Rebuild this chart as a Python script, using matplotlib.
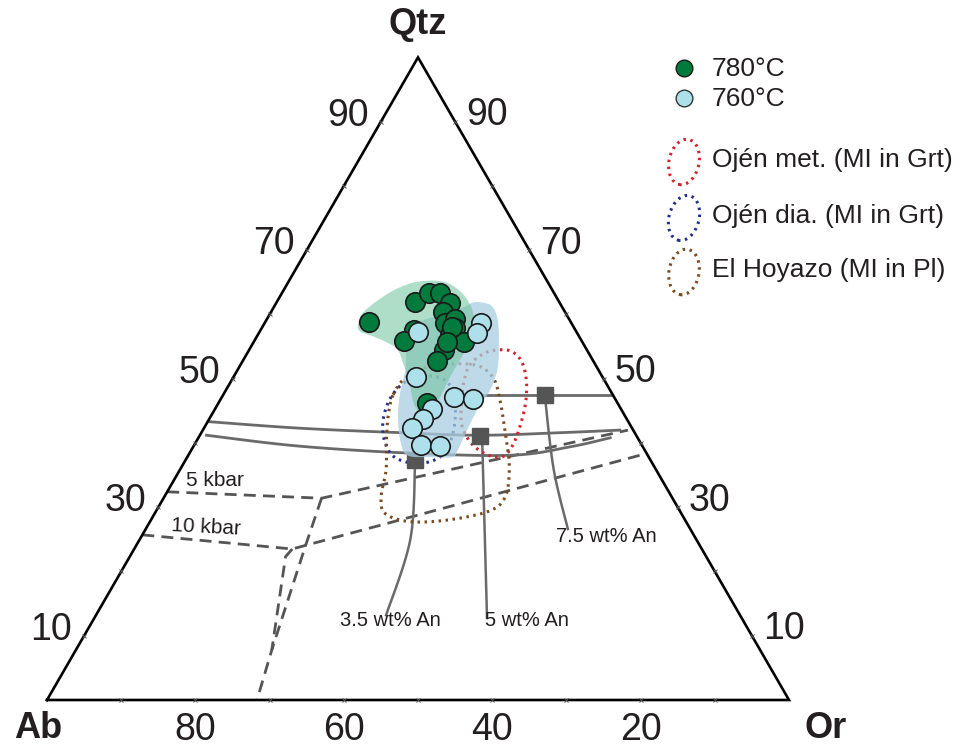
import numpy as np
import matplotlib
matplotlib.use("Agg")
import matplotlib.pyplot as plt
from matplotlib.patches import Polygon, Ellipse

plt.rcParams['font.family'] = ['Liberation Sans', 'DejaVu Sans']

# --- data: compositions in wt% (Qtz, Or); Ab = 100 - Qtz - Or ---
q780 = [58.8, 61.9, 63.3, 63.3, 61.8, 60.4, 57.6, 55.9, 58.7, 59.3, 57.9, 56.8, 55.7, 54.5, 52.8, 46.2, 58.0, 55.7]
o780 = [14.0, 18.7, 19.8, 21.3, 23.4, 23.2, 20.7, 20.2, 24.3, 25.4, 26.1, 25.9, 28.3, 26.2, 26.2, 28.1, 25.6, 26.0]

q760 = [57.3, 58.7, 57.1, 50.3, 47.2, 46.8, 45.3, 43.7, 42.3, 39.7, 39.5]
o760 = [21.4, 29.2, 29.4, 24.6, 31.3, 34.0, 29.3, 28.8, 28.0, 30.5, 33.2]

# fields of the 780 and 760 experiments
field780_q = [58.4, 60.4, 63.0, 64.6, 65.2, 65.1, 63.8, 61.8, 59.6, 56.5, 54.0, 50.3, 47.2, 45.1, 44.8, 46.2, 49.3, 52.4, 54.8, 56.5, 57.3]
field780_o = [12.7, 12.5, 14.1, 16.1, 18.1, 20.9, 23.6, 26.0, 27.7, 29.1, 29.2, 29.2, 29.4, 29.1, 27.9, 26.3, 24.2, 21.8, 19.6, 15.9, 13.6]
field760_q = [61.9, 61.3, 59.1, 55.2, 51.4, 48.2, 45.4, 42.3, 38.9, 37.8, 37.8, 38.0, 39.7, 43.6, 47.5, 51.4, 55.2, 58.4, 59.9, 61.0, 61.8]
field760_o = [27.4, 29.3, 31.2, 33.3, 35.0, 35.6, 35.4, 35.6, 35.9, 35.7, 32.7, 29.7, 27.9, 25.5, 23.8, 22.6, 20.9, 20.4, 23.0, 25.4, 26.4]

# melt inclusion fields from literature
ojen_met_q = [54.5, 54.2, 52.6, 49.8, 46.7, 43.6, 40.2, 38.1, 37.8, 38.6, 40.2, 42.8, 45.9, 49.0, 52.1, 54.0]
ojen_met_o = [33.8, 35.6, 37.7, 39.7, 41.2, 42.2, 42.9, 42.7, 41.5, 39.3, 36.9, 34.5, 32.9, 31.6, 30.9, 32.0]
ojen_dia_q = [50.3, 50.4, 49.5, 47.0, 43.6, 40.5, 38.1, 37.0, 36.9, 38.0, 40.5, 43.6, 46.7, 49.0]
ojen_dia_o = [24.5, 26.7, 29.2, 31.4, 33.2, 34.2, 34.2, 32.8, 30.5, 27.6, 25.2, 23.5, 22.8, 23.2]
hoyazo_q = [47.5, 50.1, 51.7, 52.3, 52.0, 50.1, 46.7, 42.0, 36.6, 31.9, 29.6, 28.3, 27.7, 28.0, 29.3, 31.9, 35.8, 40.5, 44.4]
hoyazo_o = [22.9, 23.2, 25.1, 28.4, 32.1, 35.1, 37.7, 40.7, 44.0, 45.9, 45.2, 41.5, 37.1, 33.6, 30.7, 29.1, 27.8, 25.5, 23.8]

# cotectic curves and minima for different An contents
cot1_q = [43.3, 42.3, 41.6, 41.2, 41.6, 42.0]
cot1_o = [0.3, 12.9, 26.8, 37.7, 48.4, 56.2]
cot2_q = [41.2, 39.5, 38.4, 38.1, 39.4, 40.8]
cot2_o = [0.9, 14.3, 30.1, 43.7, 50.8, 55.5]
cot3_q = [47.5, 47.5, 47.5]
cot3_o = [31.3, 43.4, 52.2]
min_q = [47.5, 41.1, 37.4]
min_o = [43.4, 37.8, 30.9]
min_labels = ['7.5 wt% An', '5 wt% An', '3.5 wt% An']

# pointers from minima to labels
lead75_q, lead75_o = [46.7, 35.8, 26.6], [43.8, 50.4, 56.9]
lead5_q, lead5_o = [40.5, 12.8], [38.4, 52.9]
lead35_q, lead35_o = [36.6, 24.9, 13.2], [31.3, 36.5, 39.1]

# phase boundaries at 5 and 10 kbar (H2O-saturated)
kb5_q, kb5_o = [32.4, 31.4, 42.0], [0.0, 21.3, 57.3]
kb10_q, kb10_o = [25.7, 23.5, 38.1], [0.0, 21.3, 60.9]
fsA_q, fsA_o = [31.4, 23.7, 7.8, 0.0], [21.3, 22.9, 26.4, 28.3]
fsB_q, fsB_o = [23.5, 22.3, 7.8], [21.3, 21.0, 26.4]

S = np.sqrt(3) / 2


def tern(q, o):
    q = np.asarray(q, float)
    o = np.asarray(o, float)
    return o + q / 2, q * S


def smooth(x, y, closed=False, n=14):
    pts = np.column_stack([x, y])
    if closed:
        P = np.vstack([pts[-1], pts, pts[0], pts[1]])
    else:
        P = np.vstack([pts[0], pts, pts[-1]])
    t = np.linspace(0, 1, n, endpoint=False)[:, None]
    out = []
    for i in range(1, len(P) - 2):
        p0, p1, p2, p3 = P[i - 1], P[i], P[i + 1], P[i + 2]
        out.append(0.5 * (2 * p1 + (-p0 + p2) * t + (2 * p0 - 5 * p1 + 4 * p2 - p3) * t ** 2
                          + (-p0 + 3 * p1 - 3 * p2 + p3) * t ** 3))
    out.append(P[-2][None])
    c = np.vstack(out)
    return c[:, 0], c[:, 1]


# pixel -> data, only for placing text
def P(px, py):
    return (px - 47) / 7.42, (700 - py) / 7.42


fig = plt.figure(figsize=(9.63, 7.53), dpi=100)
ax = fig.add_axes([0, 0, 1, 1])
ax.set_xlim(-47 / 7.42, (963 - 47) / 7.42)
ax.set_ylim(-53 / 7.42, 700 / 7.42)
ax.axis('off')

txt = '#231f20'

# triangle
ax.plot([0, 100, 50, 0], [0, 0, 100 * S, 0], color='black', lw=1.9, zorder=6, solid_joinstyle='miter')

# ticks every 10 %
ticks = np.arange(10, 100, 10)
for k in ticks:
    for (qq, oo) in [(0, k), (k, 0), (k, 100 - k)]:
        tx, ty = tern(qq, oo)
        ax.plot(tx, ty, marker='x', ms=3.5, mew=0.7, color='#555555', zorder=7)

# tick labels
for v in [90, 70, 50, 30, 10]:
    lx, ly = tern(v, 0)
    ax.text(lx - 4.4, ly + 0.8, str(v), fontsize=27, color=txt, ha='center', va='center')
    rx, ry = tern(v, 100 - v)
    ax.text(rx + 4.3, ry + 0.9, str(v), fontsize=27, color=txt, ha='center', va='center')
for v in [80, 60, 40, 20]:
    bx, by = tern(0, 100 - v)
    ax.text(bx, by - 4.1, str(v), fontsize=27, color=txt, ha='center', va='center')

ax.text(*P(38, 728), 'Ab', fontsize=26, fontweight='bold', color=txt, ha='center', va='center')
ax.text(*P(826, 728), 'Or', fontsize=26, fontweight='bold', color=txt, ha='center', va='center')
ax.text(*P(418, 24), 'Qtz', fontsize=26, fontweight='bold', color=txt, ha='center', va='center')

# phase boundaries (dashed)
dash = (0, (4.3, 2.6))
for qq, oo in [(kb5_q, kb5_o), (kb10_q, kb10_o), (fsA_q, fsA_o), (fsB_q, fsB_o)]:
    ax.plot(*tern(qq, oo), color='#555555', lw=2, ls=dash, zorder=2)
ax.text(*P(186, 481), '5 kbar', fontsize=15, color=txt, ha='left', va='center')
ax.text(*P(171, 527), '10 kbar', fontsize=15, color=txt, ha='left', va='center', rotation=-3)

# cotectic curves
for qq, oo in [(cot1_q, cot1_o), (cot2_q, cot2_o), (cot3_q, cot3_o)]:
    ax.plot(*smooth(*tern(qq, oo)), color='#6a6a6a', lw=2, zorder=2)
for qq, oo in [(lead75_q, lead75_o), (lead5_q, lead5_o), (lead35_q, lead35_o)]:
    ax.plot(*smooth(*tern(qq, oo)), color='#6a6a6a', lw=1.8, zorder=2)
ax.plot(*tern(min_q, min_o), ls='none', marker='s', ms=12, color='#555555', zorder=2.5)
ax.text(*P(556, 537), min_labels[0], fontsize=14.5, color=txt, ha='left', va='center')
ax.text(*P(527, 620), min_labels[1], fontsize=14.5, color=txt, ha='center', va='center')
ax.text(*P(390, 620), min_labels[2], fontsize=14.5, color=txt, ha='center', va='center')

# literature MI fields (dotted)
dot = (0, (0.8, 1.5))
ax.plot(*smooth(*tern(ojen_met_q, ojen_met_o), closed=True), color='#d2232a', lw=2.2, ls=dot, zorder=2)
ax.plot(*smooth(*tern(ojen_dia_q, ojen_dia_o), closed=True), color='#1f2e8c', lw=2.2, ls=dot, zorder=2)
ax.plot(*smooth(*tern(hoyazo_q, hoyazo_o), closed=True), color='#7a4a1f', lw=2.2, ls=dot, zorder=2)

# experimental fields
bx, by = smooth(*tern(field760_q, field760_o), closed=True)
ax.add_patch(Polygon(np.column_stack([bx, by]), closed=True, fc='#a9cde0', ec='none', alpha=0.75, zorder=3))
gx, gy = smooth(*tern(field780_q, field780_o), closed=True)
ax.add_patch(Polygon(np.column_stack([gx, gy]), closed=True, fc='#6cc39b', ec='none', alpha=0.55, zorder=3.5))

# experiments
ax.plot(*tern(q780, o780), ls='none', marker='o', ms=14, mfc='#007a3d', mec='#1a1a1a', mew=1.2, zorder=5)
ax.plot(*tern(q760, o760), ls='none', marker='o', ms=14, mfc='#ade0ea', mec='#1a1a1a', mew=1.2, zorder=5.5)

# legend
ax.plot(*P(684, 68), marker='o', ms=12, mfc='#007a3d', mec='#1a1a1a', mew=1)
ax.plot(*P(684, 98), marker='o', ms=12, mfc='#ade0ea', mec='#333333', mew=1)
ax.text(*P(712, 69), '780°C', fontsize=19, color=txt, ha='left', va='center')
ax.text(*P(712, 99), '760°C', fontsize=19, color=txt, ha='left', va='center')
leg = [('Ojén met. (MI in Grt)', '#d2232a', 162, -12),
       ('Ojén dia. (MI in Grt)', '#1f2e8c', 218, -15),
       ('El Hoyazo (MI in Pl)', '#7a4a1f', 272, -10)]
for label, col, yy, ang in leg:
    ax.add_patch(Ellipse(P(684, yy), 30 / 7.42, 46 / 7.42, angle=ang, fill=False,
                         ec=col, lw=2.2, ls=dot))
    ax.text(*P(712, yy - 2), label, fontsize=19, color=txt, ha='left', va='center')

fig.savefig('out.png', dpi=100)
